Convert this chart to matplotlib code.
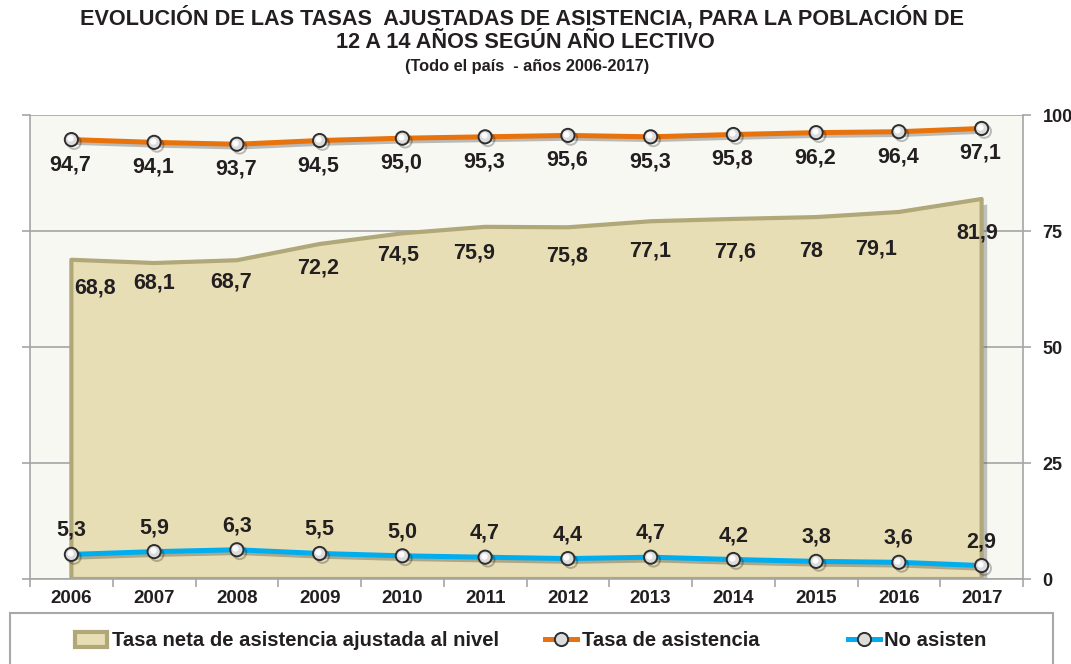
import matplotlib
matplotlib.use("Agg")
import matplotlib.pyplot as plt
import matplotlib.patheffects as pe
import matplotlib.transforms as mtransforms
from matplotlib.patches import Rectangle, Patch
from matplotlib.lines import Line2D
import numpy as np

years = ["2006", "2007", "2008", "2009", "2010", "2011", "2012", "2013", "2014", "2015", "2016", "2017"]
tasa_neta = [68.8, 68.1, 68.7, 72.2, 74.5, 75.9, 75.8, 77.1, 77.6, 78.0, 79.1, 81.9]
tasa_neta_labels = ["68,8", "68,1", "68,7", "72,2", "74,5", "75,9", "75,8", "77,1", "77,6", "78", "79,1", "81,9"]
tasa_asistencia = [94.7, 94.1, 93.7, 94.5, 95.0, 95.3, 95.6, 95.3, 95.8, 96.2, 96.4, 97.1]
no_asisten = [5.3, 5.9, 6.3, 5.5, 5.0, 4.7, 4.4, 4.7, 4.2, 3.8, 3.6, 2.9]
yticks = [0, 25, 50, 75, 100]

title1 = "EVOLUCIÓN DE LAS TASAS  AJUSTADAS DE ASISTENCIA, PARA LA POBLACIÓN DE"
title2 = "12 A 14 AÑOS SEGÚN AÑO LECTIVO"
subtitle = "(Todo el país  - años 2006-2017)"
legend_labels = ["Tasa neta de asistencia ajustada al nivel", "Tasa de asistencia", "No asisten"]

# label offsets (pixels) for the area labels
area_label_offsets = [(24, -28), (0, -20), (-6, -22), (-2, -24), (-4, -22), (-11, -26),
                      (-1, -29), (0, -30), (2, -33), (-5, -34), (-23, -37), (-4, -34)]

def fmt(v):
    return f"{v:.1f}".replace(".", ",")

plt.rcParams['font.family'] = ['Liberation Sans', 'DejaVu Sans']

W, H = 1071, 664
fig = plt.figure(figsize=(W / 100, H / 100), dpi=100)
fig.patch.set_facecolor("white")
ax = fig.add_axes([30 / W, 1 - 579 / H, (1023 - 30) / W, (579 - 115) / H])
ax.set_facecolor("#F8F8F3")

x = np.arange(len(years))
TXT = "#231F20"
GRID = "#A5A5A5"

# area
poly = ax.fill_between(x, 0, tasa_neta, facecolor="#E7DEB5", edgecolor="#B0A878",
                       linewidth=3.0, zorder=2)
poly.set_path_effects([pe.SimplePatchShadow(offset=(4, -4), shadow_rgbFace="#555555", alpha=0.35),
                       pe.Normal()])

shadow_line = [pe.SimpleLineShadow(offset=(2, -2), alpha=0.25), pe.Normal()]
marker_kw = dict(marker="o", markersize=9.5, markerfacecolor="#DCDCDC",
                 markeredgecolor="#2E2E2E", markeredgewidth=1.4)

ax.plot(x, tasa_asistencia, color="#E8720C", linewidth=3.6, zorder=4,
        path_effects=shadow_line, **marker_kw)
ax.plot(x, no_asisten, color="#00AEEF", linewidth=3.6, zorder=4,
        path_effects=shadow_line, **marker_kw)

# highlight on markers
hl = mtransforms.offset_copy(ax.transData, fig=fig, x=-1.5, y=1.5, units="dots")
for series in (tasa_asistencia, no_asisten):
    ax.plot(x, series, linestyle="none", marker="o", markersize=4.5, markerfacecolor="white",
            markeredgewidth=0, alpha=0.95, transform=hl, zorder=5)

lab_kw = dict(textcoords="offset pixels", ha="center", va="center", fontsize=15.5,
              fontweight="bold", color=TXT, zorder=6)
for xi, v in zip(x, tasa_asistencia):
    ax.annotate(fmt(v), (xi, v), xytext=(-1, -25), **lab_kw)
for xi, v in zip(x, no_asisten):
    ax.annotate(fmt(v), (xi, v), xytext=(0, 24), **lab_kw)
for xi, v, s, off in zip(x, tasa_neta, tasa_neta_labels, area_label_offsets):
    ax.annotate(s, (xi, v), xytext=off, **lab_kw)

ax.set_xlim(-0.5, len(years) - 0.5)
ax.set_ylim(0, 100)
ax.set_xticks(x)
ax.set_xticklabels(years, fontsize=13.5, fontweight="bold", color=TXT)
ax.set_xticks(np.arange(-0.5, len(years)), minor=True)
ax.tick_params(axis="x", which="major", length=0, pad=8)
ax.tick_params(axis="x", which="minor", length=6, color=GRID, width=1.2, direction="out")

ax.set_yticks(yticks)
ax.yaxis.set_ticks_position("both")
ax.tick_params(axis="y", which="major", left=True, right=True, labelleft=False, labelright=True,
               length=6, color=GRID, width=1.2, direction="out", pad=8,
               labelsize=13, labelcolor=TXT)
for lbl in ax.get_yticklabels():
    lbl.set_fontweight("bold")

ax.grid(axis="y", color=GRID, linewidth=1.2)
ax.set_axisbelow(True)
for s in ax.spines.values():
    s.set_color(GRID)
    s.set_linewidth(1.2)
ax.spines["top"].set_visible(False)

# titles
fig.text(522 / W, 1 - 18 / H, title1, ha="center", va="center", fontsize=15.6,
         fontweight="bold", color=TXT)
fig.text(525 / W, 1 - 43 / H, title2, ha="center", va="center", fontsize=15.6,
         fontweight="bold", color=TXT)
fig.text(527 / W, 1 - 67 / H, subtitle, ha="center", va="center", fontsize=11.8,
         fontweight="bold", color=TXT)

# legend box
fig.patches.append(Rectangle((10 / W, -0.1), (1053 - 10) / W, (664 - 613) / H + 0.1,
                             transform=fig.transFigure, facecolor="white",
                             edgecolor="#A8A8A8", linewidth=1.5, zorder=0))

h_area = Patch(facecolor="#E7DEB5", edgecolor="#B0A878", linewidth=3)
h_or = Line2D([], [], color="#E8720C", linewidth=3.6, **marker_kw)
h_bl = Line2D([], [], color="#00AEEF", linewidth=3.6, **marker_kw)
for h, lab, xs in zip([h_area, h_or, h_bl], legend_labels, [75, 545, 848]):
    leg = fig.legend([h], [lab], loc="center left", bbox_to_anchor=(xs / W, 1 - 641 / H),
                     frameon=False, handlelength=1.6, handletextpad=0.2, borderpad=0,
                     borderaxespad=0, prop=dict(size=14.6, weight="bold"))
    for t in leg.get_texts():
        t.set_color(TXT)

fig.savefig("out.png", dpi=100, facecolor="white")
